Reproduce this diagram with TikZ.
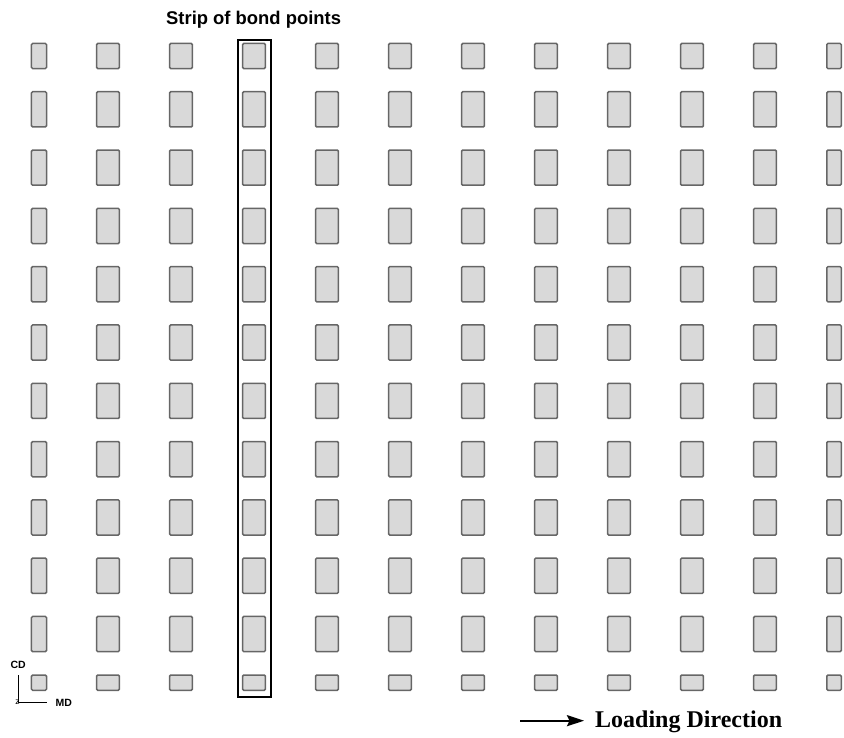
\documentclass[tikz,border=0pt]{standalone}
\usepackage{fontspec}
\setmainfont{Liberation Serif}
\newfontfamily\sansf{Liberation Sans}
\usetikzlibrary{arrows.meta}
\begin{document}
\begin{tikzpicture}[x=1pt,y=-1pt,
  bond/.style={draw=black!60, fill=black!15, line width=1.5pt, rounded corners=1.2pt, inner sep=0pt, outer sep=0pt},
  stripbox/.style={draw=black, line width=2pt, inner sep=0pt, outer sep=0pt},
  axislbl/.style={inner sep=0pt, font=\sansf\bfseries\fontsize{10.5}{11}\selectfont},
  axisline/.style={line width=0.9pt, black}]
\useasboundingbox (0,0) rectangle (844,738);
\foreach \i/\l/\r in {1/30.7/47.3, 2/95.8/120.2, 3/168.8/193.2, 4/241.8/266.2, 5/314.8/339.2, 6/387.8/412.2, 7/460.8/485.2, 8/533.8/558.2, 9/606.8/631.2, 10/679.8/704.2, 11/752.8/777.2, 12/826/842}{
  \foreach \j/\t/\b in {1/42.7/69.3, 2/91/127.7, 3/149.3/186, 4/207.6/244.3, 5/265.9/302.6, 6/324.2/360.9, 7/382.5/419.2, 8/440.8/477.5, 9/499.1/535.8, 10/557.4/594.1, 11/615.7/652.4, 12/674.3/691}{
    \pgfmathsetmacro\cx{(\l+\r)/2}
    \pgfmathsetmacro\cy{(\t+\b)/2}
    \pgfmathsetmacro\w{\r-\l-1.5}
    \pgfmathsetmacro\h{\b-\t-1.5}
    \node[bond, minimum width=\w pt, minimum height=\h pt] (b\i-\j) at (\cx,\cy) {};
  }
}
\node[stripbox, minimum width=33pt, minimum height=656.7pt] (strip) at (254.5,368.35) {};
\node[anchor=base west, inner sep=0pt, font=\sansf\bfseries\fontsize{18.4}{20}\selectfont] (title) at (166,24.5) {Strip of bond points};
% axes
\coordinate (axo) at (18.3,702.7);
\coordinate (axy) at (18.3,675);
\coordinate (axx) at (46.7,702.7);
\draw[axisline] (axy) -- (axo) -- (axx);
\node[axislbl] (cd) at (18.2,664.5) {CD};
\node[axislbl, anchor=west] (md) at (55.5,702.5) {MD};
\node[inner sep=0pt, font=\sansf\fontsize{8.5}{9}\selectfont] (zlbl) at (17.6,701.8) {z};
% loading direction
\node[anchor=base west, inner sep=0pt, font=\bfseries\fontsize{24}{26}\selectfont] (ld) at (595,727.3) {Loading Direction};
\coordinate (lds) at (520,720.7);
\coordinate (lde) at (584,720.7);
\draw[line width=2.2pt, -{Stealth[length=17pt,width=11pt,inset=2.5pt]}] (lds) -- (lde);
\end{tikzpicture}
\end{document}
